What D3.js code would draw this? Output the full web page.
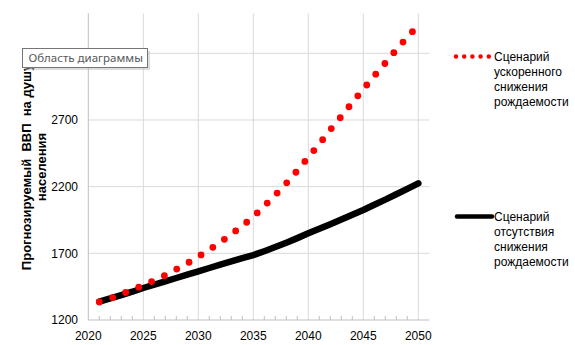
<!DOCTYPE html>
<html><head><meta charset="utf-8">
<script src="https://cdn.jsdelivr.net/npm/d3@7"></script>
<style>body{margin:0;background:#fff;}svg{display:block;}</style>
</head><body>
<svg id="chart" width="575" height="345"></svg>
<script>
const years = [2021,2022,2023,2024,2025,2026,2027,2028,2029,2030,2031,2032,2033,2034,2035,2036,2037,2038,2039,2040,2041,2042,2043,2044,2045,2046,2047,2048,2049,2050];
const fastDecline = [1335,1361,1393,1426,1460,1497,1535,1580,1625,1675,1727,1783,1843,1905,1975,2055,2137,2225,2320,2421,2520,2627,2726,2831,2931,3031,3127,3227,3321,3410];
const noDecline = [1337,1362,1387,1412,1440,1465,1490,1515,1540,1565,1590,1615,1640,1664,1687,1716,1747,1780,1814,1850,1884,1918,1953,1989,2025,2064,2103,2143,2184,2225];
const yTicks = [1200,1700,2200,2700,3200];
const yLabels = [1200,1700,2200,2700]; // 3200 label is hidden behind the tooltip in the reference
const xTicks = [2020,2025,2030,2035,2040,2045,2050];
const seriesNames = [["Сценарий","ускоренного","снижения","рождаемости"],["Сценарий","отсутствия","снижения","рождаемости"]];
const yTitle = ["Прогнозируемый  ВВП  на душу","населения"];
const tooltipText = "Область диаграммы";

const svg = d3.select("#chart");
const x = d3.scaleLinear().domain([2020, 2051]).range([88.3, 429.3]);
const y = d3.scaleLinear().domain([1200, 3500]).range([320, 13.3]);
const font = "Liberation Sans, Arial, sans-serif";

// horizontal gridlines
svg.append("g").selectAll("line").data(yTicks.slice(1)).join("line")
  .attr("x1", x(2020)).attr("x2", x(2051))
  .attr("y1", d => y(d)).attr("y2", d => y(d))
  .attr("stroke", "#d9d9d9").attr("stroke-width", 1);
// vertical gridlines
svg.append("g").selectAll("line").data(xTicks.slice(1)).join("line")
  .attr("x1", d => x(d)).attr("x2", d => x(d))
  .attr("y1", y(3500)).attr("y2", y(1200))
  .attr("stroke", "#d9d9d9").attr("stroke-width", 1);

// axes lines
svg.append("line").attr("x1", x(2020)).attr("x2", x(2020)).attr("y1", y(3500)).attr("y2", y(1200))
  .attr("stroke", "#bfbfbf");
svg.append("line").attr("x1", x(2020)).attr("x2", x(2051)).attr("y1", y(1200)).attr("y2", y(1200))
  .attr("stroke", "#bfbfbf");
// minor ticks on x axis
const minor = x.ticks(31).filter(d => d > 2020 && d < 2051 && d % 5 !== 0);
svg.append("g").selectAll("line").data(minor).join("line")
  .attr("x1", d => x(d)).attr("x2", d => x(d))
  .attr("y1", y(1200) - 4).attr("y2", y(1200))
  .attr("stroke", "#bfbfbf");

// tick labels
svg.append("g").selectAll("text").data(yLabels).join("text")
  .attr("x", 78).attr("y", d => y(d)).attr("dy", "0.35em")
  .attr("text-anchor", "end").attr("font-family", font).attr("font-size", 12)
  .attr("fill", "#000").text(d => d);
svg.append("g").selectAll("text").data(xTicks).join("text")
  .attr("x", d => x(d)).attr("y", 336).attr("dy", "0.35em")
  .attr("text-anchor", "middle").attr("font-family", font).attr("font-size", 12)
  .attr("fill", "#000").text(d => d);

// y title
const yt = svg.append("text").attr("transform", "translate(26,167) rotate(-90)")
  .attr("text-anchor", "middle").attr("font-family", font).attr("font-size", 13)
  .attr("font-weight", "bold").attr("fill", "#000");
yTitle.forEach((t, i) => yt.append("tspan").attr("x", 0).attr("y", i * 15).attr("dy", "0.35em")
  .style("white-space", "pre").text(t));

// lines
const line = d3.line().x((d, i) => x(years[i])).y(d => y(d));
svg.append("path").datum(noDecline).attr("d", line)
  .attr("fill", "none").attr("stroke", "#000").attr("stroke-width", 6.5)
  .attr("stroke-linejoin", "round").attr("stroke-linecap", "round");
svg.append("path").datum(fastDecline).attr("d", line)
  .attr("fill", "none").attr("stroke", "#ff0000").attr("stroke-width", 6.8)
  .attr("stroke-dasharray", "0 14.05").attr("stroke-linecap", "round");

// legend
const lg = svg.append("g");
lg.append("line").attr("x1", 456).attr("x2", 490).attr("y1", 56.5).attr("y2", 56.5)
  .attr("stroke", "#ff0000").attr("stroke-width", 4.5).attr("stroke-linecap", "round")
  .attr("stroke-dasharray", "0 8.2");
lg.append("line").attr("x1", 457).attr("x2", 492).attr("y1", 216.5).attr("y2", 216.5)
  .attr("stroke", "#000").attr("stroke-width", 4.5).attr("stroke-linecap", "round");
[56.5, 216.5].forEach((y0, k) => {
  lg.append("g").selectAll("text").data(seriesNames[k]).join("text")
    .attr("x", 494).attr("y", (d, i) => y0 + i * 15).attr("dy", "0.35em")
    .attr("font-family", font).attr("font-size", 12).attr("fill", "#000").text(d => d);
});

// tooltip overlay
const tip = svg.append("g");
tip.append("rect").attr("x", 25).attr("y", 51).attr("width", 125).attr("height", 19)
  .attr("fill", "#bbb").attr("opacity", 0.5);
tip.append("rect").attr("x", 22.5).attr("y", 48.5).attr("width", 125).attr("height", 19)
  .attr("fill", "#fff").attr("stroke", "#767676");
tip.append("text").attr("x", 28.5).attr("y", 58).attr("dy", "0.35em")
  .attr("font-family", "Noto Sans, Open Sans, sans-serif").attr("font-size", 11.5)
  .attr("fill", "#575757").text(tooltipText);
</script>
</body></html>
